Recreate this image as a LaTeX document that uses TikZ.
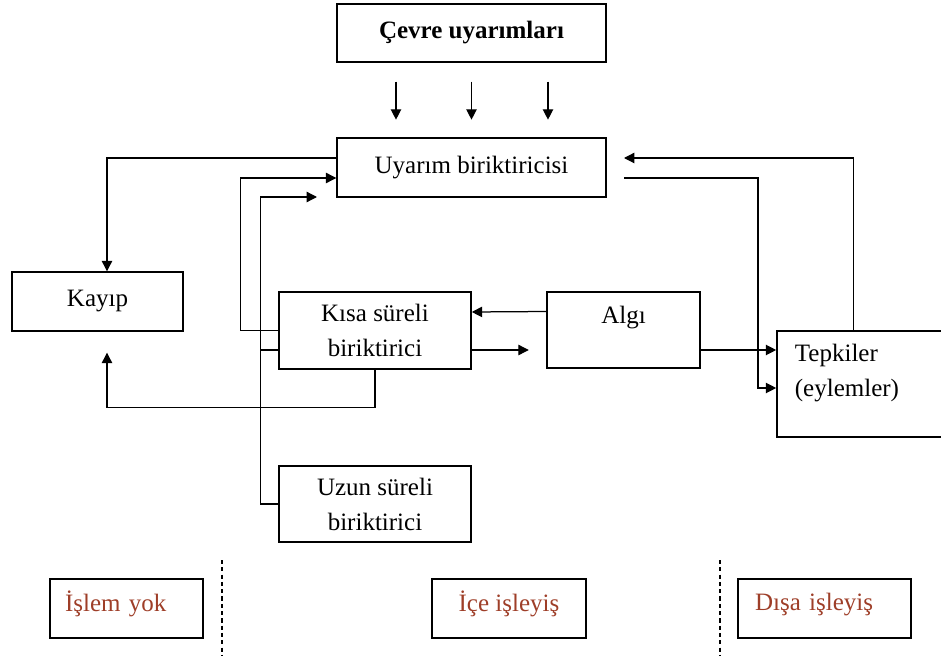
\documentclass[tikz,border=0pt]{standalone}
\usepackage{fontspec}
\setmainfont{Liberation Serif}
\usetikzlibrary{calc}
\usetikzlibrary{arrows.meta}
\definecolor{stagered}{RGB}{158,62,40}
\tikzset{unit/.style={rectangle,draw=black,line width=0.7pt,align=center,font=\fontsize{12}{16.8}\selectfont}}
\tikzset{stage/.style={unit,text=stagered,minimum height=28.3pt,text depth=6.6pt}}
\tikzset{flow/.style={line width=0.6pt,-{Triangle[length=5pt,width=5pt]}}}
\tikzset{wire/.style={line width=0.6pt}}

\begin{document}
\begin{tikzpicture}[x=0.48pt,y=-0.48pt]
\useasboundingbox (0,0) rectangle (941,656);

\node[unit,font=\fontsize{12}{16.8}\selectfont\bfseries,minimum width=129.1pt,minimum height=27.8pt] (cevre) at (471.5,33) {Çevre uyarımları};
\node[unit,minimum width=129.1pt,minimum height=28.3pt] (uyarim) at (471.5,167.5) {Uyarım biriktiricisi};
\node[unit,minimum width=82.1pt,minimum height=28.3pt] (kayip) at (97.5,301.5) {Kayıp};
\node[unit,minimum width=92.2pt,minimum height=37pt] (kisa) at (375,330.5) {Kısa süreli\\biriktirici};
\node[unit,minimum width=73.4pt,minimum height=36.5pt,text depth=15pt] (algi) at (623.5,330) {Algı};
\node[unit,align=left,minimum height=50.9pt,inner xsep=8.64pt,text width=78.8pt,text depth=30.4pt] (tepkiler) at (877,384) {Tepkiler\\(eylemler)};
\node[unit,minimum width=92.2pt,minimum height=36.5pt] (uzun) at (375,504) {Uzun süreli\\biriktirici};

% stimuli
\foreach \dx in {-75.5,0,76.5}
  \draw[flow] ($(cevre.south)+(\dx,19)$) -- +(0,38);

% loss
\draw[flow] ($(uyarim.west)+(0,-9.5)$) -| ($(kayip.north)+(9.5,0)$);
\coordinate (lossin) at ($(kayip.south)+(9.5,21)$);
\draw[flow] (kisa.south) -- ++(0,38) -| (lossin);

% memory loops
\draw[flow] (kisa.west) -- ++(-38,0) |- ($(uyarim.west)+(0,10.5)$);
\coordinate (uzunend) at (317,197);
\draw[flow] (uzun.west) -- ++(-18,0) |- (uzunend);
\draw[wire] ($(kisa.west)+(0,19.5)$) -- ++(-18,0);

\draw[flow] ($(algi.west)+(0,-18.5)$) -- ($(kisa.east)+(0,-18.5)$);
\draw[flow] ($(kisa.east)+(0,19.5)$) -- ++(57,0);

% responses
\draw[flow] ($(algi.east)+(0,20)$) coordinate (toresp) -- (toresp -| tepkiler.west);
\coordinate (outstart) at (624,178);
\draw[flow] (outstart) -- ++(134,0) |- ($(tepkiler.west)+(0,4)$);
\coordinate (backend) at (624,158);
\draw[flow] ($(tepkiler.north west)+(77,0)$) |- (backend);

% stages
\draw[wire,dash pattern=on 2pt off 1.5pt] (222,560) -- (222,656);
\draw[wire,dash pattern=on 2pt off 1.5pt] (720,560) -- (720,656);

\node[stage,align=left,minimum width=73.4pt,inner xsep=7.2pt,text width=59pt] (islem) at (126.5,608.5) {İşlem yok};
\node[stage,minimum width=73.9pt] (ice) at (509,608.5) {İçe işleyiş};
\node[stage,align=left,minimum width=83pt,inner xsep=8.16pt,text width=66.7pt] (disa) at (824.5,608.5) {Dışa işleyiş};

\end{tikzpicture}
\end{document}
